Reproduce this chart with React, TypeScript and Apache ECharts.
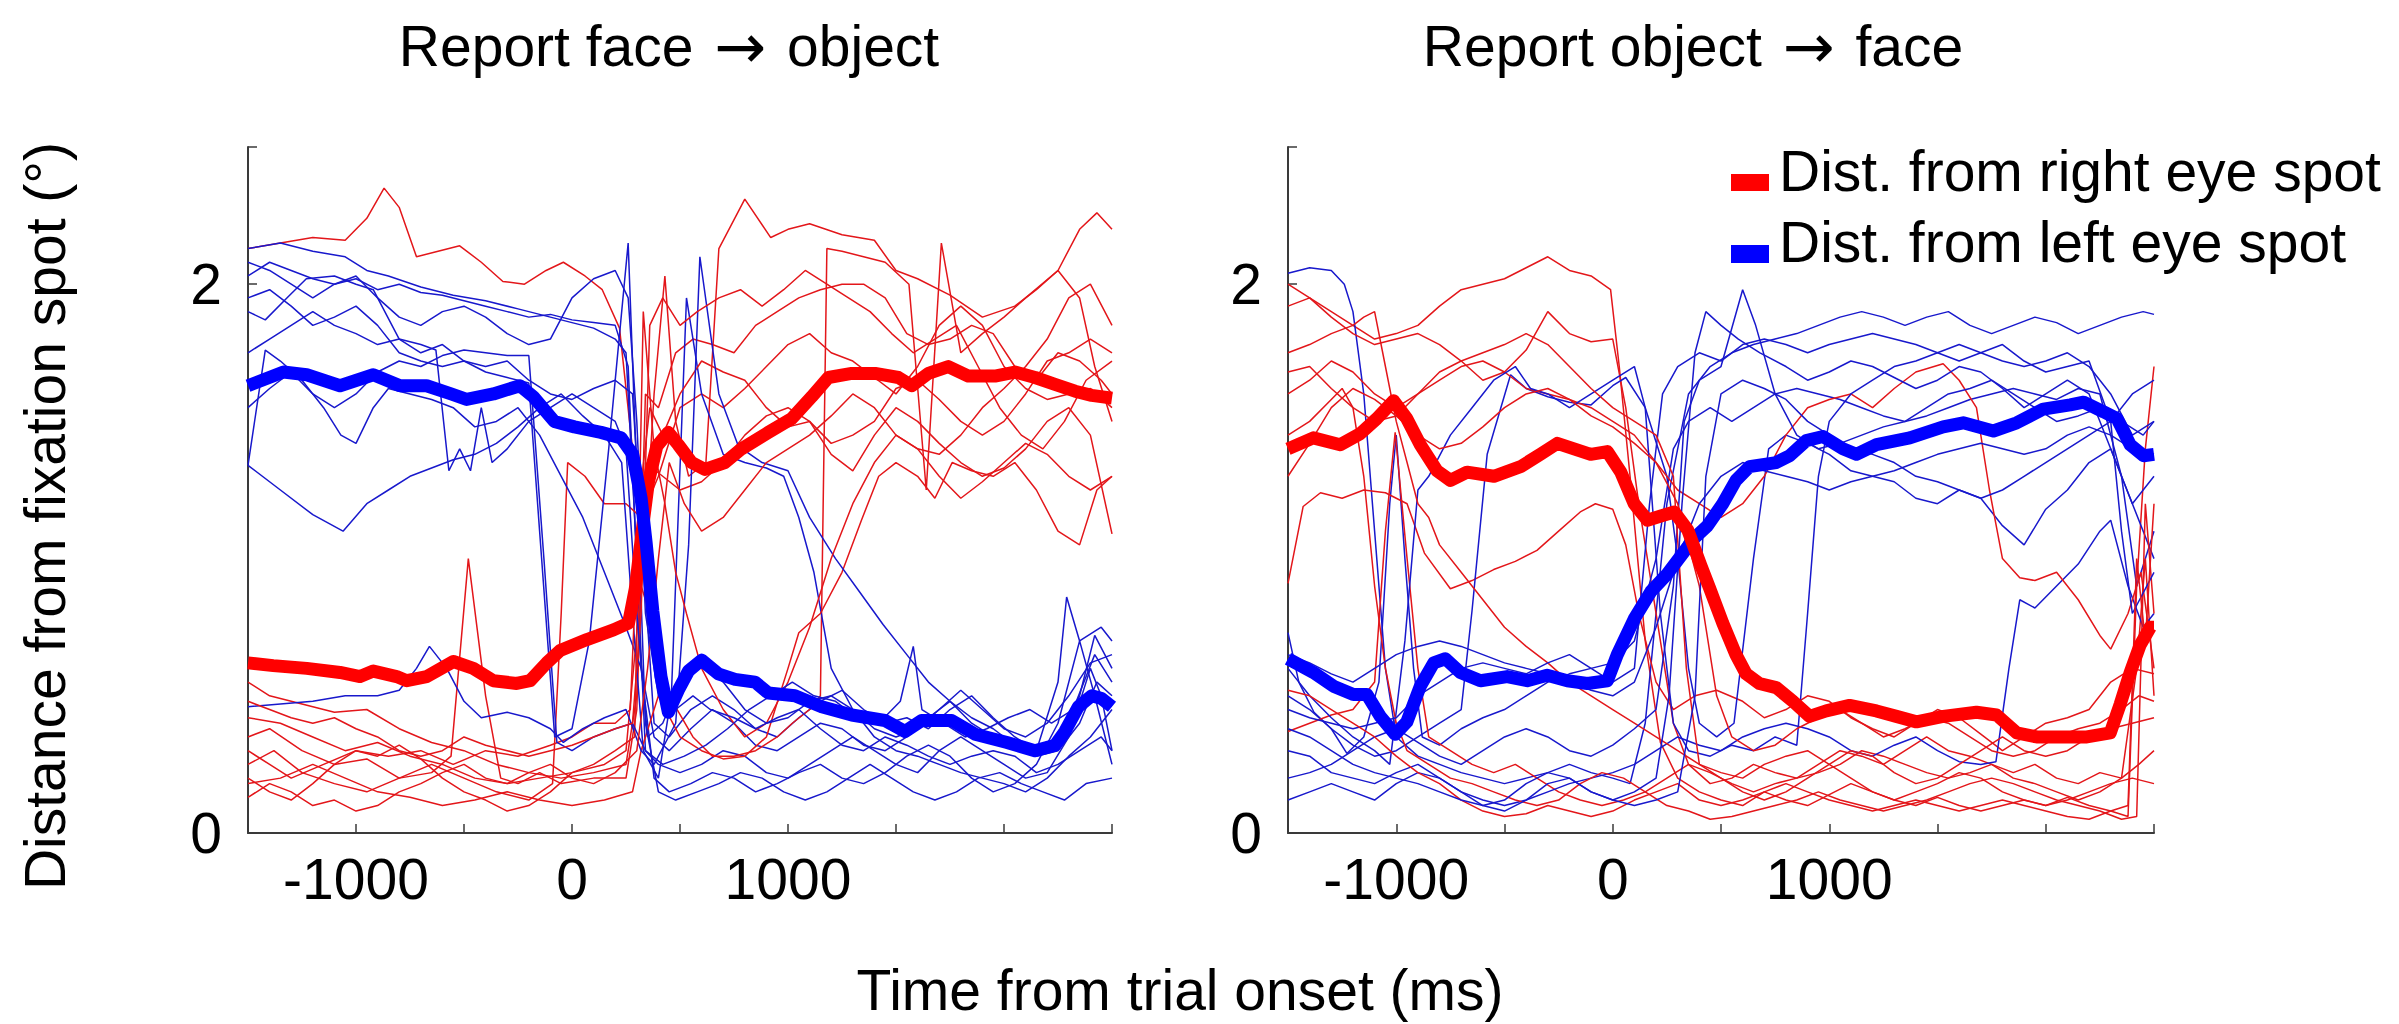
import React, { useEffect, useRef } from "react";
import * as echarts from "echarts";

// ---------- axis settings ----------
const timeMin = -1500;
const timeMax = 2500;
const timeStep = 500;
const timeLabels = [-1000, 0, 1000];
const distMax = 2.5;
const distLabels = [0, 2];

const panelTitles = [["Report face", "object"], ["Report object", "face"]];
const titleArrow = "\u2192";
const xTitle = "Time from trial onset (ms)";
const yTitle = "Distance from fixation spot (\u00b0)";
const legendNames = ["Dist. from right eye spot", "Dist. from left eye spot"];

// ---------- Report face -> object : single trials (time ms, distance deg) ----------
const leftRedTrials: number[][][] = [
  [[-1500,2.13],[-1350,2.15],[-1200,2.17],[-1050,2.16],[-950,2.24],[-870,2.35],[-800,2.28],[-720,2.1],[-620,2.12],[-520,2.14],[-420,2.08],[-320,2.01],[-220,2.0],[-120,2.05],[-40,2.08],[60,2.03],[140,1.98],[220,1.84],[280,1.4],[330,0.95],[380,1.6],[430,2.03],[480,1.5],[540,1.3],[620,1.35],[680,2.13],[800,2.31],[920,2.17],[1000,2.2],[1100,2.22],[1250,2.18],[1400,2.16],[1500,2.05],[1600,2.02],[1750,1.96],[1900,1.88],[2050,1.92],[2150,1.98],[2250,2.05],[2350,2.2],[2430,2.26],[2500,2.2]],
  [[-1500,0.55],[-1400,0.5],[-1250,0.47],[-1100,0.44],[-950,0.45],[-800,0.38],[-650,0.33],[-500,0.3],[-350,0.25],[-200,0.22],[-50,0.2],[100,0.22],[250,0.25],[300,0.5],[340,1.6],[400,1.55],[480,1.75],[560,1.8],[650,1.78],[750,1.75],[850,1.85],[950,1.9],[1050,1.95],[1150,1.98],[1250,2.0],[1350,2.0],[1450,1.95],[1550,1.82],[1650,1.78],[1750,1.8],[1850,1.85],[1950,1.82],[2050,1.7],[2150,1.65],[2250,1.75],[2350,1.72],[2450,1.65],[2500,1.6]],
  [[-1500,0.35],[-1400,0.38],[-1250,0.3],[-1100,0.25],[-950,0.27],[-800,0.2],[-650,0.22],[-560,0.28],[-480,1.0],[-400,0.5],[-330,0.2],[-250,0.18],[-150,0.22],[-50,0.18],[100,0.2],[250,0.2],[300,0.45],[340,1.35],[420,1.3],[500,1.25],[600,1.28],[700,1.35],[800,1.45],[900,1.52],[1000,1.55],[1100,1.5],[1200,1.38],[1300,1.32],[1400,1.45],[1500,1.55],[1600,1.5],[1700,1.42],[1800,1.35],[1900,1.3],[2000,1.33],[2100,1.4],[2200,1.5],[2300,1.55],[2400,1.45],[2500,1.09]],
  [[-1500,0.25],[-1380,0.3],[-1250,0.22],[-1100,0.18],[-950,0.15],[-800,0.2],[-650,0.25],[-500,0.2],[-350,0.15],[-200,0.12],[-90,0.18],[-50,0.8],[-20,1.35],[60,1.3],[150,1.2],[250,1.2],[320,1.15],[400,1.3],[500,1.55],[600,1.6],[700,1.55],[800,1.62],[900,1.7],[1000,1.78],[1100,1.82],[1200,1.75],[1300,1.72],[1400,1.66],[1500,1.6],[1600,1.7],[1700,1.85],[1800,1.92],[1900,1.85],[2000,1.7],[2100,1.62],[2200,1.58],[2300,1.6],[2400,1.62],[2500,1.55]],
  [[-1500,0.42],[-1350,0.4],[-1200,0.35],[-1050,0.3],[-900,0.33],[-750,0.28],[-600,0.25],[-450,0.2],[-300,0.18],[-150,0.2],[0,0.22],[150,0.25],[250,0.3],[320,0.9],[380,0.75],[450,0.5],[560,0.35],[650,0.28],[750,0.28],[850,0.3],[950,0.35],[1020,0.4],[1100,0.45],[1150,0.5],[1180,2.13],[1250,2.12],[1350,2.1],[1450,2.08],[1560,2.0],[1640,1.25],[1710,2.15],[1800,1.75],[1900,1.82],[2000,1.88],[2100,1.95],[2250,2.05],[2350,1.95],[2420,1.7],[2500,1.5]],
  [[-1500,0.18],[-1350,0.2],[-1200,0.25],[-1050,0.2],[-900,0.15],[-750,0.13],[-600,0.1],[-450,0.12],[-300,0.15],[-150,0.12],[0,0.1],[150,0.12],[280,0.15],[320,0.3],[400,0.5],[500,0.35],[600,0.3],[700,0.27],[800,0.28],[900,0.35],[1000,0.6],[1050,0.73],[1150,0.8],[1250,0.95],[1340,1.14],[1420,1.3],[1500,1.35],[1600,1.3],[1680,1.22],[1760,1.35],[1850,1.32],[1950,1.3],[2050,1.35],[2150,1.25],[2250,1.1],[2350,1.05],[2430,1.25],[2500,1.3]],
  [[-1500,0.3],[-1400,0.25],[-1300,0.2],[-1150,0.25],[-1000,0.3],[-850,0.28],[-700,0.3],[-550,0.25],[-400,0.3],[-250,0.28],[-100,0.32],[0,0.35],[100,0.4],[200,0.4],[270,0.45],[310,1.2],[360,1.55],[420,1.45],[500,1.6],[600,1.72],[700,1.68],[800,1.65],[900,1.55],[1000,1.48],[1100,1.5],[1200,1.42],[1300,1.45],[1400,1.5],[1500,1.62],[1600,1.65],[1700,1.58],[1800,1.5],[1900,1.45],[2000,1.5],[2100,1.6],[2200,1.72],[2300,1.75],[2400,1.8],[2500,1.75]],
  [[-1500,0.2],[-1400,0.15],[-1300,0.12],[-1200,0.18],[-1100,0.25],[-1000,0.3],[-900,0.28],[-800,0.32],[-700,0.27],[-600,0.2],[-500,0.15],[-400,0.12],[-300,0.08],[-200,0.1],[-100,0.15],[0,0.22],[100,0.25],[200,0.3],[290,0.35],[330,1.9],[380,1.4],[430,1.2],[480,0.95],[530,0.8],[600,0.6],[700,0.45],[800,0.35],[900,0.4],[1000,0.55],[1100,0.75],[1200,1.0],[1300,1.2],[1400,1.35],[1500,1.45],[1600,1.4],[1700,1.38],[1800,1.45],[1900,1.55],[2000,1.62],[2100,1.7],[2200,1.8],[2300,1.95],[2400,2.0],[2500,1.85]],
  [[-1500,0.48],[-1400,0.45],[-1300,0.42],[-1200,0.4],[-1100,0.42],[-1000,0.38],[-900,0.35],[-800,0.3],[-700,0.28],[-600,0.3],[-500,0.35],[-400,0.32],[-300,0.3],[-200,0.28],[-100,0.3],[0,0.32],[100,0.35],[200,0.38],[280,0.4],[320,0.8],[360,1.85],[420,1.95],[500,1.85],[580,1.9],[680,1.95],[780,1.98],[880,1.92],[980,1.98],[1080,2.05],[1180,2.0],[1280,1.95],[1380,1.9],[1480,1.82],[1580,1.75],[1680,1.8],[1780,1.85],[1880,1.7],[1980,1.55],[2080,1.45],[2180,1.4],[2280,1.5],[2380,1.65],[2500,1.72]],
  [[-1500,0.13],[-1400,0.18],[-1300,0.15],[-1200,0.1],[-1100,0.12],[-1000,0.08],[-900,0.1],[-800,0.15],[-700,0.18],[-600,0.22],[-500,0.25],[-400,0.2],[-300,0.18],[-200,0.22],[-100,0.25],[0,0.2],[100,0.18],[200,0.22],[300,0.3],[350,0.6],[400,1.0],[450,1.35],[520,1.2],[600,1.1],[700,1.15],[800,1.25],[900,1.35],[1000,1.4],[1100,1.45],[1200,1.52],[1300,1.6],[1400,1.55],[1500,1.45],[1600,1.4],[1700,1.3],[1800,1.22],[1900,1.28],[2000,1.35],[2100,1.42],[2200,1.38],[2300,1.3],[2400,1.25],[2500,1.3]],
];

const leftBlueTrials: number[][][] = [
  [[-1500,2.13],[-1350,2.15],[-1200,2.12],[-1050,2.1],[-950,2.05],[-850,2.03],[-700,1.99],[-550,1.96],[-400,1.94],[-250,1.91],[-100,1.88],[0,1.86],[100,1.84],[200,1.8],[250,1.75],[300,1.0],[340,0.3],[400,0.25],[500,0.22],[600,0.25],[700,0.3],[800,0.28],[900,0.22],[1000,0.2],[1100,0.25],[1200,0.3],[1300,0.35],[1400,0.3],[1500,0.25],[1600,0.22],[1700,0.3],[1800,0.35],[1900,0.3],[2000,0.25],[2100,0.2],[2200,0.22],[2300,0.35],[2400,0.6],[2450,0.5],[2500,0.3]],
  [[-1500,2.03],[-1400,2.08],[-1300,2.05],[-1200,2.02],[-1100,2.0],[-1000,2.02],[-900,1.98],[-800,2.0],[-700,1.97],[-600,1.96],[-500,1.94],[-400,1.92],[-300,1.9],[-200,1.88],[-100,1.89],[0,1.87],[100,1.86],[200,1.85],[260,1.7],[320,0.6],[380,0.2],[450,0.15],[550,0.18],[650,0.22],[750,0.2],[850,0.15],[950,0.18],[1050,0.22],[1150,0.25],[1250,0.2],[1350,0.18],[1450,0.22],[1550,0.28],[1650,0.32],[1750,0.28],[1850,0.2],[1950,0.15],[2050,0.18],[2150,0.25],[2250,0.4],[2350,0.7],[2420,0.5],[2500,0.25]],
  [[-1500,1.9],[-1420,1.87],[-1320,1.95],[-1230,2.02],[-1100,2.03],[-1000,2.0],[-920,1.98],[-800,1.8],[-700,1.75],[-600,1.78],[-500,1.72],[-400,1.7],[-300,1.72],[-200,1.65],[-100,1.6],[0,1.58],[100,1.62],[200,1.65],[280,1.6],[330,1.0],[380,0.4],[450,0.35],[550,0.45],[650,0.5],[750,0.45],[850,0.38],[950,0.35],[1050,0.42],[1150,0.48],[1250,0.52],[1350,0.45],[1450,0.4],[1550,0.42],[1650,0.38],[1750,0.45],[1850,0.5],[1950,0.42],[2050,0.35],[2150,0.3],[2250,0.55],[2290,0.86],[2350,0.7],[2450,0.75],[2500,0.7]],
  [[-1500,1.34],[-1420,1.76],[-1350,1.72],[-1250,1.65],[-1150,1.55],[-1070,1.45],[-1000,1.42],[-920,1.55],[-850,1.62],[-750,1.6],[-650,1.58],[-550,1.55],[-450,1.48],[-350,1.5],[-250,1.55],[-150,1.45],[-50,1.3],[50,1.15],[150,0.95],[250,0.75],[320,0.6],[380,0.35],[450,0.3],[550,0.38],[650,0.45],[750,0.4],[850,0.32],[950,0.3],[1050,0.35],[1150,0.4],[1250,0.38],[1350,0.32],[1450,0.3],[1550,0.35],[1650,0.42],[1750,0.48],[1850,0.42],[1950,0.38],[2050,0.32],[2150,0.3],[2250,0.35],[2350,0.5],[2420,0.72],[2500,0.6]],
  [[-1500,1.34],[-1350,1.25],[-1200,1.16],[-1060,1.1],[-950,1.2],[-850,1.25],[-750,1.3],[-650,1.33],[-550,1.36],[-450,1.38],[-350,1.42],[-250,1.48],[-150,1.55],[-50,1.6],[50,1.52],[150,1.45],[230,1.35],[280,0.8],[330,0.3],[400,0.2],[460,0.5],[530,1.95],[600,1.6],[700,1.38],[800,1.35],[900,1.33],[980,1.3],[1050,1.15],[1120,0.95],[1200,0.6],[1300,0.45],[1400,0.35],[1500,0.3],[1600,0.28],[1700,0.25],[1800,0.22],[1900,0.2],[2000,0.18],[2100,0.15],[2200,0.2],[2300,0.28],[2400,0.35],[2500,0.45]],
  [[-1500,1.95],[-1400,1.98],[-1300,1.92],[-1200,1.85],[-1100,1.88],[-1000,1.92],[-900,1.85],[-800,1.75],[-700,1.72],[-600,1.7],[-500,1.72],[-400,1.68],[-300,1.66],[-200,1.64],[-150,1.1],[-80,0.35],[0,0.38],[80,0.7],[170,1.4],[260,2.15],[300,1.3],[340,0.4],[400,0.15],[480,0.12],[580,0.15],[680,0.18],[780,0.22],[880,0.2],[980,0.15],[1080,0.12],[1180,0.15],[1280,0.2],[1380,0.25],[1480,0.2],[1580,0.15],[1680,0.12],[1780,0.15],[1880,0.2],[1980,0.22],[2080,0.18],[2180,0.15],[2280,0.12],[2380,0.18],[2500,0.2]],
  [[-1500,0.46],[-1350,0.47],[-1200,0.48],[-1050,0.5],[-900,0.5],[-800,0.52],[-720,0.6],[-660,0.68],[-580,0.6],[-500,0.48],[-420,0.42],[-300,0.44],[-200,0.42],[-100,0.38],[-40,0.33],[50,0.38],[150,0.42],[250,0.45],[320,0.3],[380,0.25],[480,0.4],[540,1.05],[592,2.1],[680,1.6],[770,1.41],[880,1.35],[1000,1.32],[1100,1.15],[1220,1.0],[1330,0.88],[1440,0.76],[1550,0.65],[1650,0.55],[1750,0.48],[1850,0.4],[1950,0.35],[2050,0.32],[2150,0.28],[2250,0.3],[2350,0.4],[2430,0.55],[2500,0.5]],
  [[-1500,1.55],[-1400,1.62],[-1300,1.68],[-1200,1.6],[-1100,1.55],[-1000,1.6],[-900,1.68],[-800,1.72],[-700,1.7],[-600,1.74],[-500,1.76],[-400,1.75],[-300,1.74],[-200,1.74],[-130,1.0],[-70,0.33],[0,0.3],[100,0.35],[200,0.38],[280,0.4],[340,0.3],[420,0.25],[520,0.28],[620,0.32],[720,0.38],[820,0.45],[920,0.5],[1020,0.55],[1120,0.5],[1220,0.48],[1320,0.42],[1420,0.4],[1520,0.48],[1580,0.68],[1620,0.45],[1720,0.4],[1820,0.35],[1920,0.38],[2020,0.42],[2120,0.45],[2220,0.4],[2320,0.45],[2420,0.65],[2500,0.55]],
  [[-1500,1.75],[-1400,1.8],[-1300,1.85],[-1200,1.9],[-1100,1.85],[-1000,1.82],[-900,1.78],[-800,1.8],[-700,1.78],[-630,1.76],[-570,1.32],[-520,1.4],[-470,1.32],[-420,1.55],[-370,1.35],[-300,1.4],[-200,1.5],[-100,1.55],[0,1.6],[100,1.55],[200,1.5],[250,1.4],[300,0.8],[350,0.35],[420,0.4],[500,0.55],[600,0.62],[700,0.55],[800,0.45],[900,0.4],[1000,0.42],[1100,0.48],[1200,0.5],[1300,0.45],[1400,0.38],[1500,0.35],[1600,0.38],[1700,0.45],[1800,0.52],[1900,0.45],[2000,0.38],[2100,0.35],[2200,0.4],[2300,0.5],[2400,0.62],[2500,0.65]],
  [[-1500,2.08],[-1400,2.05],[-1300,2.0],[-1200,1.95],[-1100,2.0],[-1000,2.03],[-900,1.95],[-800,1.88],[-700,1.85],[-600,1.9],[-500,1.92],[-400,1.88],[-300,1.82],[-200,1.78],[-100,1.8],[0,1.95],[100,2.02],[200,2.05],[260,1.95],[300,1.5],[340,0.8],[400,0.5],[480,0.45],[560,0.5],[640,0.45],[750,0.42],[850,0.38],[950,0.42],[1050,0.45],[1150,0.38],[1250,0.32],[1350,0.3],[1450,0.35],[1550,0.32],[1650,0.28],[1750,0.25],[1850,0.28],[1950,0.3],[2050,0.28],[2150,0.22],[2250,0.25],[2350,0.3],[2450,0.35],[2500,0.3]],
];

// ---------- Report face -> object : trial means ----------
const leftRedMean: number[][] = [
  [-1500,0.62],[-1383,0.61],[-1228,0.6],[-1074,0.585],[-981,0.57],[-920,0.59],[-812,0.57],[-765,0.555],[-673,0.57],[-549,0.625],[-457,0.6],[-364,0.555],[-256,0.545],[-194,0.555],[-117,0.62],[-55,0.665],[69,0.705],[192,0.74],[262,0.765],[293,0.89],[331,1.14],[354,1.28],[393,1.41],[446,1.46],[492,1.415],[554,1.35],[616,1.325],[708,1.35],[785,1.4],[909,1.46],[1017,1.51],[1110,1.59],[1187,1.66],[1295,1.675],[1403,1.675],[1511,1.66],[1573,1.63],[1650,1.675],[1742,1.7],[1835,1.665],[1958,1.665],[2051,1.68],[2144,1.66],[2236,1.635],[2329,1.61],[2406,1.595],[2500,1.585],
];
const leftBlueMean: number[][] = [
  [-1500,1.63],[-1336,1.68],[-1228,1.67],[-1074,1.63],[-920,1.67],[-796,1.63],[-673,1.63],[-560,1.6],[-488,1.58],[-364,1.6],[-241,1.63],[-179,1.59],[-82,1.5],[11,1.48],[134,1.46],[227,1.44],[281,1.38],[320,1.22],[343,1.06],[374,0.81],[412,0.57],[446,0.44],[492,0.52],[539,0.59],[600,0.63],[677,0.58],[755,0.56],[847,0.55],[909,0.51],[1032,0.5],[1156,0.46],[1295,0.43],[1449,0.41],[1542,0.37],[1619,0.41],[1758,0.41],[1866,0.36],[2014,0.33],[2143,0.3],[2236,0.32],[2282,0.37],[2344,0.46],[2406,0.5],[2452,0.49],[2500,0.46],
];

// ---------- Report object -> face : single trials ----------
const rightRedTrials: number[][][] = [
  [[-1500,1.92],[-1400,1.95],[-1300,1.9],[-1200,1.85],[-1100,1.8],[-1000,1.82],[-900,1.85],[-800,1.92],[-700,1.98],[-600,2.0],[-500,2.02],[-400,2.06],[-300,2.1],[-200,2.05],[-100,2.03],[-10,1.98],[30,1.7],[80,1.3],[150,0.7],[220,0.33],[300,0.2],[400,0.15],[500,0.12],[600,0.1],[700,0.15],[800,0.12],[900,0.1],[1000,0.14],[1100,0.18],[1200,0.15],[1300,0.12],[1400,0.1],[1500,0.13],[1600,0.1],[1700,0.08],[1800,0.1],[1900,0.12],[2000,0.1],[2100,0.13],[2200,0.1],[2300,0.08],[2380,0.06],[2420,0.9],[2460,1.4],[2500,1.7]],
  [[-1500,2.0],[-1400,1.95],[-1300,1.88],[-1200,1.82],[-1100,1.78],[-1000,1.8],[-900,1.82],[-800,1.78],[-700,1.72],[-600,1.65],[-500,1.68],[-400,1.76],[-300,1.9],[-200,1.82],[-100,1.79],[0,1.8],[60,1.55],[120,1.2],[200,0.8],[280,0.4],[350,0.25],[450,0.18],[550,0.2],[650,0.25],[750,0.22],[850,0.2],[950,0.25],[1050,0.3],[1150,0.28],[1250,0.25],[1350,0.3],[1450,0.35],[1550,0.3],[1650,0.28],[1750,0.25],[1850,0.22],[1950,0.25],[2050,0.2],[2150,0.18],[2250,0.22],[2350,0.2],[2430,0.25],[2500,0.3]],
  [[-1500,0.91],[-1430,1.19],[-1350,1.24],[-1250,1.22],[-1150,1.25],[-1050,1.24],[-950,1.2],[-870,1.02],[-750,0.89],[-650,0.92],[-550,0.96],[-450,0.99],[-350,1.03],[-250,1.1],[-150,1.17],[-80,1.2],[0,1.18],[60,1.05],[120,0.8],[200,0.55],[280,0.45],[380,0.5],[480,0.52],[600,0.48],[700,0.42],[800,0.45],[900,0.5],[1000,0.48],[1100,0.42],[1200,0.38],[1300,0.35],[1400,0.4],[1500,0.45],[1600,0.42],[1700,0.36],[1800,0.3],[1900,0.35],[2000,0.4],[2100,0.42],[2200,0.45],[2300,0.55],[2400,0.6],[2500,0.58]],
  [[-1500,0.37],[-1400,0.4],[-1300,0.43],[-1200,0.45],[-1100,0.55],[-1050,1.1],[-1005,1.46],[-950,1.0],[-900,0.6],[-850,0.35],[-750,0.3],[-650,0.25],[-550,0.22],[-450,0.25],[-350,0.2],[-250,0.15],[-150,0.12],[-50,0.1],[50,0.12],[150,0.15],[250,0.2],[350,0.25],[450,0.22],[550,0.18],[650,0.15],[750,0.18],[850,0.2],[950,0.22],[1050,0.25],[1150,0.3],[1250,0.28],[1350,0.25],[1450,0.22],[1550,0.2],[1650,0.22],[1750,0.25],[1850,0.2],[1950,0.18],[2050,0.15],[2150,0.12],[2250,0.15],[2350,0.2],[2420,0.6],[2460,1.0],[2500,0.5]],
  [[-1500,1.6],[-1400,1.65],[-1300,1.72],[-1200,1.68],[-1100,1.6],[-1000,1.55],[-900,1.6],[-800,1.65],[-700,1.7],[-600,1.72],[-500,1.68],[-400,1.62],[-300,1.6],[-200,1.58],[-100,1.55],[0,1.5],[100,1.45],[200,1.35],[300,1.25],[400,1.2],[500,1.15],[600,1.2],[700,1.3],[800,1.45],[900,1.55],[1000,1.58],[1100,1.6],[1200,1.55],[1300,1.62],[1400,1.68],[1526,1.71],[1600,1.65],[1680,1.55],[1740,1.25],[1800,1.0],[1880,0.93],[1950,0.92],[2050,0.95],[2150,0.85],[2250,0.72],[2300,0.67],[2380,0.8],[2440,0.95],[2500,0.6]],
  [[-1500,1.75],[-1400,1.78],[-1300,1.82],[-1200,1.85],[-1150,1.88],[-1100,1.9],[-1050,1.7],[-1000,1.5],[-950,1.35],[-900,1.2],[-850,1.15],[-800,1.05],[-700,0.95],[-600,0.85],[-500,0.75],[-400,0.68],[-300,0.62],[-200,0.55],[-100,0.5],[0,0.45],[100,0.4],[200,0.35],[300,0.3],[400,0.25],[500,0.22],[600,0.2],[700,0.25],[800,0.28],[900,0.3],[1000,0.25],[1100,0.2],[1200,0.15],[1300,0.12],[1400,0.15],[1500,0.18],[1600,0.22],[1700,0.2],[1800,0.15],[1900,0.12],[2000,0.1],[2100,0.12],[2200,0.15],[2300,0.18],[2400,0.2],[2500,0.18]],
  [[-1500,1.45],[-1400,1.5],[-1300,1.58],[-1250,1.62],[-1200,1.55],[-1150,1.3],[-1100,0.9],[-1050,0.6],[-1000,0.4],[-950,0.3],[-850,0.25],[-750,0.2],[-650,0.18],[-550,0.15],[-450,0.12],[-350,0.1],[-250,0.12],[-150,0.18],[-50,0.22],[50,0.2],[150,0.15],[250,0.1],[350,0.08],[450,0.05],[550,0.06],[650,0.08],[750,0.1],[850,0.12],[950,0.15],[1050,0.12],[1150,0.1],[1250,0.08],[1350,0.1],[1450,0.12],[1550,0.15],[1650,0.18],[1750,0.2],[1850,0.18],[1950,0.15],[2050,0.12],[2150,0.1],[2250,0.08],[2350,0.05],[2420,0.06],[2460,1.2],[2500,0.8]],
  [[-1500,1.68],[-1400,1.7],[-1300,1.62],[-1200,1.55],[-1100,1.5],[-1000,1.52],[-900,1.6],[-800,1.68],[-700,1.72],[-600,1.75],[-500,1.78],[-400,1.82],[-300,1.78],[-200,1.7],[-100,1.62],[0,1.55],[100,1.5],[200,1.45],[280,1.3],[340,0.6],[400,0.25],[500,0.2],[600,0.15],[700,0.12],[800,0.15],[900,0.2],[1000,0.25],[1100,0.3],[1200,0.28],[1300,0.22],[1400,0.18],[1500,0.2],[1600,0.25],[1700,0.3],[1800,0.35],[1900,0.3],[2000,0.28],[2100,0.3],[2200,0.35],[2300,0.38],[2400,0.4],[2500,0.42]],
  [[-1500,1.3],[-1400,1.42],[-1300,1.55],[-1200,1.62],[-1100,1.58],[-1000,1.52],[-900,1.45],[-800,1.4],[-700,1.42],[-600,1.48],[-500,1.55],[-400,1.6],[-300,1.62],[-200,1.58],[-100,1.52],[0,1.48],[100,1.42],[200,1.35],[300,1.2],[400,0.9],[480,0.5],[550,0.35],[650,0.3],[750,0.32],[850,0.38],[950,0.42],[1050,0.45],[1150,0.4],[1250,0.35],[1350,0.38],[1450,0.42],[1550,0.4],[1650,0.35],[1750,0.3],[1850,0.28],[1950,0.3],[2050,0.35],[2150,0.38],[2250,0.4],[2350,0.45],[2430,0.5],[2500,0.48]],
  [[-1500,0.52],[-1400,0.5],[-1300,0.45],[-1200,0.4],[-1100,0.35],[-1000,0.28],[-900,0.22],[-800,0.18],[-700,0.12],[-600,0.08],[-500,0.06],[-400,0.07],[-300,0.1],[-200,0.08],[-100,0.06],[0,0.08],[100,0.12],[200,0.15],[300,0.18],[400,0.12],[500,0.1],[600,0.12],[700,0.15],[800,0.18],[900,0.15],[1000,0.12],[1100,0.1],[1200,0.08],[1300,0.1],[1400,0.12],[1500,0.1],[1600,0.08],[1700,0.1],[1800,0.12],[1900,0.1],[2000,0.08],[2100,0.06],[2200,0.05],[2300,0.08],[2380,0.1],[2420,1.0],[2460,0.7],[2500,1.2]],
];

const rightBlueTrials: number[][][] = [
  [[-1500,2.04],[-1400,2.06],[-1300,2.05],[-1240,2.0],[-1200,1.9],[-1150,1.6],[-1100,1.1],[-1050,0.6],[-1000,0.35],[-900,0.28],[-800,0.25],[-700,0.22],[-600,0.2],[-500,0.18],[-400,0.2],[-300,0.22],[-200,0.25],[-100,0.22],[0,0.2],[80,0.18],[150,0.4],[250,1.2],[350,1.6],[450,1.7],[550,1.75],[650,1.78],[750,1.8],[850,1.82],[950,1.85],[1050,1.88],[1150,1.9],[1250,1.88],[1350,1.85],[1450,1.88],[1550,1.9],[1650,1.85],[1750,1.82],[1850,1.85],[1950,1.88],[2050,1.86],[2150,1.82],[2250,1.85],[2350,1.88],[2450,1.9],[2500,1.89]],
  [[-1500,0.73],[-1450,0.55],[-1380,0.44],[-1300,0.38],[-1228,0.29],[-1150,0.35],[-1080,0.55],[-1030,1.2],[-1000,1.45],[-960,1.0],[-920,0.6],[-880,0.35],[-800,0.32],[-700,0.38],[-600,0.42],[-500,0.45],[-400,0.5],[-300,0.55],[-200,0.58],[-100,0.6],[0,0.62],[100,0.7],[200,1.0],[280,1.4],[350,1.5],[450,1.55],[550,1.5],[650,1.55],[750,1.6],[850,1.62],[950,1.6],[1050,1.58],[1150,1.55],[1250,1.52],[1350,1.5],[1450,1.52],[1550,1.55],[1650,1.58],[1750,1.6],[1850,1.62],[1950,1.6],[2050,1.58],[2150,1.62],[2250,1.6],[2350,1.3],[2420,0.9],[2500,1.1]],
  [[-1500,0.5],[-1400,0.45],[-1300,0.38],[-1200,0.32],[-1100,0.28],[-1000,0.3],[-900,0.35],[-800,0.4],[-700,0.45],[-650,0.81],[-580,1.38],[-472,1.67],[-400,1.62],[-300,1.59],[-200,1.57],[-100,1.56],[0,1.63],[60,1.66],[150,1.55],[250,1.3],[300,1.0],[350,0.6],[400,0.4],[480,0.35],[560,0.4],[650,1.0],[720,1.4],[800,1.45],[900,1.42],[1000,1.38],[1100,1.32],[1200,1.3],[1300,1.28],[1400,1.22],[1500,1.2],[1600,1.25],[1700,1.22],[1800,1.12],[1900,1.05],[2000,1.18],[2100,1.25],[2200,1.35],[2300,1.4],[2400,1.2],[2500,1.0]],
  [[-1500,0.3],[-1400,0.28],[-1300,0.22],[-1200,0.2],[-1100,0.18],[-1000,0.22],[-900,0.25],[-800,0.2],[-700,0.15],[-600,0.12],[-500,0.1],[-400,0.12],[-300,0.15],[-200,0.18],[-100,0.2],[0,0.22],[100,0.25],[200,0.3],[300,0.35],[400,0.32],[500,0.3],[600,0.35],[700,0.38],[800,0.4],[900,0.38],[1000,0.35],[1100,0.3],[1200,0.28],[1300,0.32],[1400,0.35],[1500,0.3],[1600,0.26],[1700,0.25],[1770,0.26],[1830,0.6],[1880,0.85],[1950,0.82],[2050,0.9],[2150,0.98],[2250,1.1],[2300,1.14],[2380,0.9],[2450,0.75],[2500,0.8]],
  [[-1500,0.6],[-1400,0.5],[-1300,0.42],[-1200,0.35],[-1100,0.3],[-1030,0.25],[-960,0.7],[-900,1.25],[-850,1.3],[-750,1.45],[-650,1.55],[-550,1.65],[-450,1.7],[-380,1.62],[-300,1.6],[-200,1.55],[-100,1.6],[0,1.65],[100,1.7],[150,1.55],[220,0.8],[280,0.4],[350,0.3],[450,0.28],[550,0.32],[650,0.3],[750,0.35],[850,0.32],[900,0.8],[950,1.3],[1000,1.5],[1100,1.6],[1200,1.65],[1300,1.7],[1400,1.72],[1500,1.75],[1600,1.78],[1700,1.75],[1800,1.72],[1900,1.7],[2000,1.72],[2100,1.75],[2200,1.7],[2300,1.6],[2400,1.45],[2500,1.5]],
  [[-1500,0.2],[-1400,0.22],[-1300,0.25],[-1200,0.3],[-1100,0.35],[-1000,0.38],[-900,0.33],[-800,0.28],[-700,0.25],[-600,0.3],[-500,0.35],[-400,0.38],[-300,0.35],[-200,0.3],[-100,0.28],[0,0.32],[100,0.38],[200,0.45],[280,0.9],[330,1.5],[400,1.65],[500,1.7],[600,1.98],[660,1.85],[750,1.6],[850,1.45],[950,1.4],[1050,1.42],[1150,1.45],[1250,1.48],[1350,1.5],[1450,1.55],[1550,1.6],[1650,1.62],[1750,1.65],[1850,1.6],[1950,1.55],[2050,1.5],[2150,1.52],[2250,1.55],[2350,1.5],[2450,1.45],[2500,1.5]],
  [[-1500,0.45],[-1400,0.42],[-1300,0.4],[-1200,0.38],[-1100,0.4],[-1000,0.42],[-900,0.5],[-800,0.55],[-700,0.6],[-600,0.62],[-500,0.6],[-400,0.58],[-300,0.62],[-200,0.65],[-100,0.6],[0,0.55],[100,0.6],[170,1.2],[230,1.6],[300,1.7],[400,1.75],[500,1.72],[600,1.78],[700,1.8],[800,1.78],[900,1.75],[1000,1.78],[1100,1.8],[1200,1.82],[1300,1.8],[1400,1.78],[1500,1.75],[1600,1.72],[1700,1.75],[1800,1.78],[1900,1.72],[2000,1.68],[2100,1.7],[2200,1.72],[2300,1.5],[2350,1.1],[2400,0.8],[2500,0.95]],
  [[-1500,0.12],[-1400,0.15],[-1300,0.18],[-1200,0.15],[-1100,0.12],[-1000,0.18],[-900,0.22],[-800,0.2],[-700,0.15],[-600,0.1],[-500,0.08],[-400,0.12],[-300,0.18],[-200,0.2],[-100,0.15],[0,0.12],[100,0.15],[200,0.2],[260,0.5],[320,1.2],[380,1.75],[430,1.9],[500,1.85],[580,1.8],[680,1.75],[800,1.7],[900,1.65],[1000,1.68],[1100,1.72],[1200,1.7],[1300,1.66],[1400,1.62],[1500,1.65],[1600,1.7],[1700,1.68],[1800,1.62],[1900,1.55],[2000,1.6],[2100,1.65],[2200,1.6],[2300,1.4],[2400,1.2],[2500,1.3]],
  [[-1500,0.65],[-1400,0.62],[-1300,0.58],[-1200,0.55],[-1100,0.6],[-1000,0.65],[-900,0.68],[-800,0.7],[-700,0.68],[-600,0.65],[-500,0.62],[-400,0.6],[-300,0.58],[-200,0.55],[-100,0.52],[0,0.5],[100,0.55],[200,0.75],[300,1.0],[400,1.2],[500,1.3],[600,1.35],[700,1.32],[800,1.3],[900,1.28],[1000,1.25],[1100,1.28],[1200,1.3],[1300,1.32],[1400,1.35],[1500,1.38],[1600,1.4],[1700,1.42],[1800,1.4],[1900,1.38],[2000,1.4],[2100,1.45],[2200,1.48],[2300,1.45],[2400,1.4],[2500,1.38]],
  [[-1500,0.38],[-1400,0.35],[-1300,0.3],[-1200,0.25],[-1100,0.22],[-1000,0.2],[-900,0.18],[-800,0.15],[-700,0.12],[-600,0.1],[-500,0.12],[-400,0.18],[-300,0.22],[-200,0.2],[-100,0.15],[0,0.12],[100,0.1],[200,0.12],[300,0.15],[380,0.5],[430,1.3],[500,1.6],[600,1.65],[700,1.62],[800,1.58],[900,1.5],[1000,1.45],[1100,1.4],[1200,1.38],[1300,1.35],[1400,1.3],[1500,1.28],[1600,1.25],[1700,1.22],[1800,1.25],[1900,1.3],[2000,1.35],[2100,1.4],[2200,1.45],[2300,1.5],[2400,1.6],[2500,1.65]],
];

// ---------- Report object -> face : trial means ----------
const rightRedMean: number[][] = [
  [-1500,1.4],[-1383,1.44],[-1259,1.415],[-1167,1.455],[-1090,1.51],[-1012,1.575],[-951,1.51],[-889,1.415],[-812,1.32],[-750,1.285],[-673,1.315],[-549,1.3],[-426,1.335],[-334,1.38],[-256,1.42],[-179,1.4],[-102,1.38],[-25,1.39],[37,1.315],[99,1.2],[160,1.14],[222,1.155],[284,1.17],[346,1.105],[407,0.975],[446,0.895],[508,0.765],[569,0.65],[616,0.58],[677,0.545],[755,0.53],[832,0.48],[909,0.425],[986,0.445],[1094,0.465],[1218,0.445],[1310,0.425],[1403,0.405],[1526,0.425],[1680,0.44],[1773,0.43],[1866,0.365],[1958,0.35],[2066,0.35],[2190,0.35],[2298,0.365],[2344,0.47],[2390,0.585],[2436,0.685],[2483,0.75],[2500,0.75],
];
const rightBlueMean: number[][] = [
  [-1500,0.635],[-1383,0.585],[-1290,0.535],[-1198,0.505],[-1136,0.505],[-1074,0.425],[-1005,0.36],[-951,0.405],[-889,0.535],[-827,0.62],[-773,0.635],[-704,0.585],[-611,0.555],[-488,0.57],[-395,0.555],[-303,0.575],[-210,0.555],[-117,0.545],[-25,0.555],[21,0.65],[99,0.78],[176,0.88],[253,0.945],[315,1.01],[377,1.075],[438,1.12],[508,1.2],[569,1.285],[631,1.335],[755,1.35],[817,1.375],[894,1.43],[971,1.445],[1063,1.4],[1125,1.38],[1218,1.415],[1372,1.44],[1526,1.48],[1619,1.495],[1758,1.465],[1866,1.495],[1989,1.545],[2113,1.56],[2175,1.57],[2267,1.535],[2329,1.51],[2390,1.415],[2452,1.375],[2500,1.38],
];

const FONT = "'Liberation Sans', Arial, Helvetica, sans-serif";
const ARROW_FONT = "'DejaVu Sans', sans-serif";
const RED = "#ff0000";
const BLUE = "#0000ff";
const RED_THIN = "#e3161a";
const BLUE_THIN = "#1818cc";

function buildOption() {
  const grids = [
    { left: 248, top: 147, width: 864, height: 686 },
    { left: 1288, top: 147, width: 866, height: 686 },
  ];

  const axisLine = { show: true, onZero: false, lineStyle: { color: "#3a3a3a", width: 2 } };

  const xAxes = grids.map((_, i) => ({
    type: "value",
    gridIndex: i,
    min: timeMin,
    max: timeMax,
    interval: timeStep,
    axisLine,
    axisTick: { show: true, inside: true, length: 9, lineStyle: { color: "#3a3a3a", width: 1.5 } },
    axisLabel: {
      show: true,
      margin: 17,
      color: "#000",
      fontFamily: FONT,
      fontSize: 57,
      formatter: (v: number) => (timeLabels.includes(v) ? String(v) : ""),
    },
    splitLine: { show: false },
  }));

  const yAxes = grids.map((_, i) => ({
    type: "value",
    gridIndex: i,
    min: 0,
    max: distMax,
    interval: 2,
    axisLine,
    axisTick: { show: true, inside: true, length: 9, lineStyle: { color: "#3a3a3a", width: 1.5 } },
    axisLabel: {
      show: true,
      margin: 26,
      color: "#000",
      fontFamily: FONT,
      fontSize: 57,
      formatter: (v: number) => (distLabels.includes(v) ? String(v) : ""),
    },
    splitLine: { show: false },
  }));

  const series: any[] = [];
  const thin = (data: number[][], color: string, idx: number) => ({
    type: "line",
    xAxisIndex: idx,
    yAxisIndex: idx,
    data,
    symbol: "none",
    showSymbol: false,
    silent: true,
    z: 2,
    lineStyle: { color, width: 1.5 },
  });
  const thick = (data: number[][], color: string, idx: number, z: number) => ({
    type: "line",
    xAxisIndex: idx,
    yAxisIndex: idx,
    data,
    symbol: "none",
    showSymbol: false,
    silent: true,
    z,
    lineStyle: { color, width: 13, join: "round", cap: "butt" },
  });

  const panels = [
    { red: leftRedTrials, blue: leftBlueTrials, redMean: leftRedMean, blueMean: leftBlueMean, blueTop: true },
    { red: rightRedTrials, blue: rightBlueTrials, redMean: rightRedMean, blueMean: rightBlueMean, blueTop: false },
  ];
  panels.forEach((p, idx) => {
    const n = Math.max(p.red.length, p.blue.length);
    for (let k = 0; k < n; k++) {
      if (p.red[k]) series.push(thin(p.red[k], RED_THIN, idx));
      if (p.blue[k]) series.push(thin(p.blue[k], BLUE_THIN, idx));
    }
    series.push(thick(p.redMean, RED, idx, p.blueTop ? 3 : 4));
    series.push(thick(p.blueMean, BLUE, idx, p.blueTop ? 4 : 3));
  });

  const textStyle = (text: string, align: string) => ({
    text,
    fill: "#000",
    font: `57px ${FONT}`,
    textAlign: align,
    textVerticalAlign: "middle",
  });

  const titleStyle = (parts: string[]) => ({
    text: `{t|${parts[0]} }{a|${titleArrow}}{t| ${parts[1]}}`,
    textAlign: "center",
    textVerticalAlign: "middle",
    rich: {
      t: { fontFamily: FONT, fontSize: 57, fill: "#000", color: "#000", lineHeight: 66 },
      a: { fontFamily: ARROW_FONT, fontSize: 62, fill: "#000", color: "#000", lineHeight: 66, padding: [0, 5, 0, 5] },
    },
  });

  const graphic: any[] = [
    { type: "text", x: 669, y: 46, style: titleStyle(panelTitles[0]) },
    { type: "text", x: 1693, y: 46, style: titleStyle(panelTitles[1]) },
    { type: "text", x: 1180, y: 990, style: textStyle(xTitle, "center") },
    { type: "text", x: 45, y: 516, rotation: Math.PI / 2, style: textStyle(yTitle, "center") },
    { type: "rect", shape: { x: 1731, y: 174, width: 38, height: 17 }, style: { fill: RED } },
    { type: "text", x: 1779, y: 171, style: textStyle(legendNames[0], "left") },
    { type: "rect", shape: { x: 1731, y: 245, width: 38, height: 18 }, style: { fill: BLUE } },
    { type: "text", x: 1779, y: 242, style: textStyle(legendNames[1], "left") },
  ];

  return {
    animation: false,
    backgroundColor: "#ffffff",
    grid: grids,
    xAxis: xAxes,
    yAxis: yAxes,
    series,
    graphic,
  };
}

export default function App() {
  const ref = useRef<HTMLDivElement>(null);
  useEffect(() => {
    if (!ref.current) return;
    const chart = echarts.init(ref.current, undefined, { renderer: "svg" });
    chart.setOption(buildOption() as any);
    return () => chart.dispose();
  }, []);
  return (
    <div
      ref={ref}
      style={{ position: "fixed", left: 0, top: 0, width: 2399, height: 1024, background: "#fff" }}
    />
  );
}
